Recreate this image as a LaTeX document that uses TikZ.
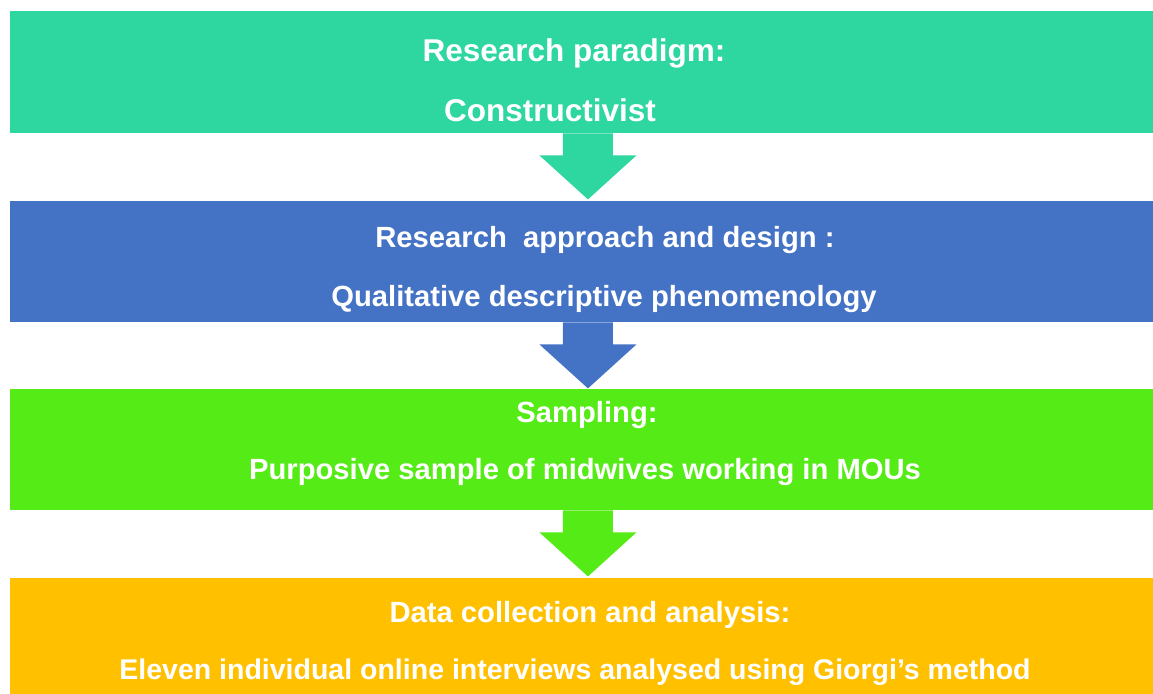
\documentclass[tikz,border=0pt]{standalone}
\usepackage{fontspec}
\setmainfont{Liberation Sans}
\usetikzlibrary{positioning}
\definecolor{paradigm}{RGB}{46,214,160}
\definecolor{approach}{RGB}{68,114,196}
\definecolor{sampling}{RGB}{85,235,22}
\definecolor{datacoll}{RGB}{255,192,0}
\tikzset{
	box/.style={fill=#1, minimum width=1143.5pt, minimum height=122pt, inner sep=0pt, anchor=north west},
	txt/.style={text=white, font=\bfseries\fontsize{29.2}{35}\selectfont, anchor=base, inner sep=0pt},
	bigtxt/.style={txt, font=\bfseries\fontsize{31.5}{38}\selectfont},
	smalltxt/.style={txt, font=\bfseries\fontsize{28.5}{34}\selectfont},
	pics/downarrow/.style={code={
		\fill[#1] (-25,0) -- (25,0) -- (25,22) -- (48.5,22) -- (0,66) -- (-48.5,22) -- (-25,22) -- cycle;
	}}
}
\begin{document}
\begin{tikzpicture}[x=1pt, y=-1pt]
		\useasboundingbox (0,0) rectangle (1153,693);
		\path
		(9.5,11) node[box=paradigm](a) {}
		(9.5,201) node[box=approach, minimum height=121pt](b) {}
		(9.5,389) node[box=sampling, minimum height=121pt](c) {}
		(9.5,578) node[box=datacoll, minimum height=118pt](d) {};
		% block arrows between the stages
		\pic at ([xshift=6.5pt]a.south) {downarrow=paradigm};
		\pic at ([xshift=6.5pt]b.south) {downarrow=approach};
		\pic at ([xshift=6.5pt]c.south) {downarrow=sampling};
		% labels
		\path
		(574,61) node[bigtxt](a1) {Research paradigm:}
		(550,121) node[bigtxt](a2) {Constructivist}
		(605,247) node[txt](b1) {Research\ \ approach and design :}
		(604,306) node[txt](b2) {Qualitative descriptive phenomenology}
		(587,422) node[txt](c1) {Sampling:}
		(585,479) node[txt](c2) {Purposive sample of midwives working in MOUs}
		(590,622) node[txt](d1) {Data collection and analysis:}
		(575,679) node[smalltxt](d2) {Eleven individual online interviews analysed using Giorgi’s method};
	\end{tikzpicture}
\end{document}
